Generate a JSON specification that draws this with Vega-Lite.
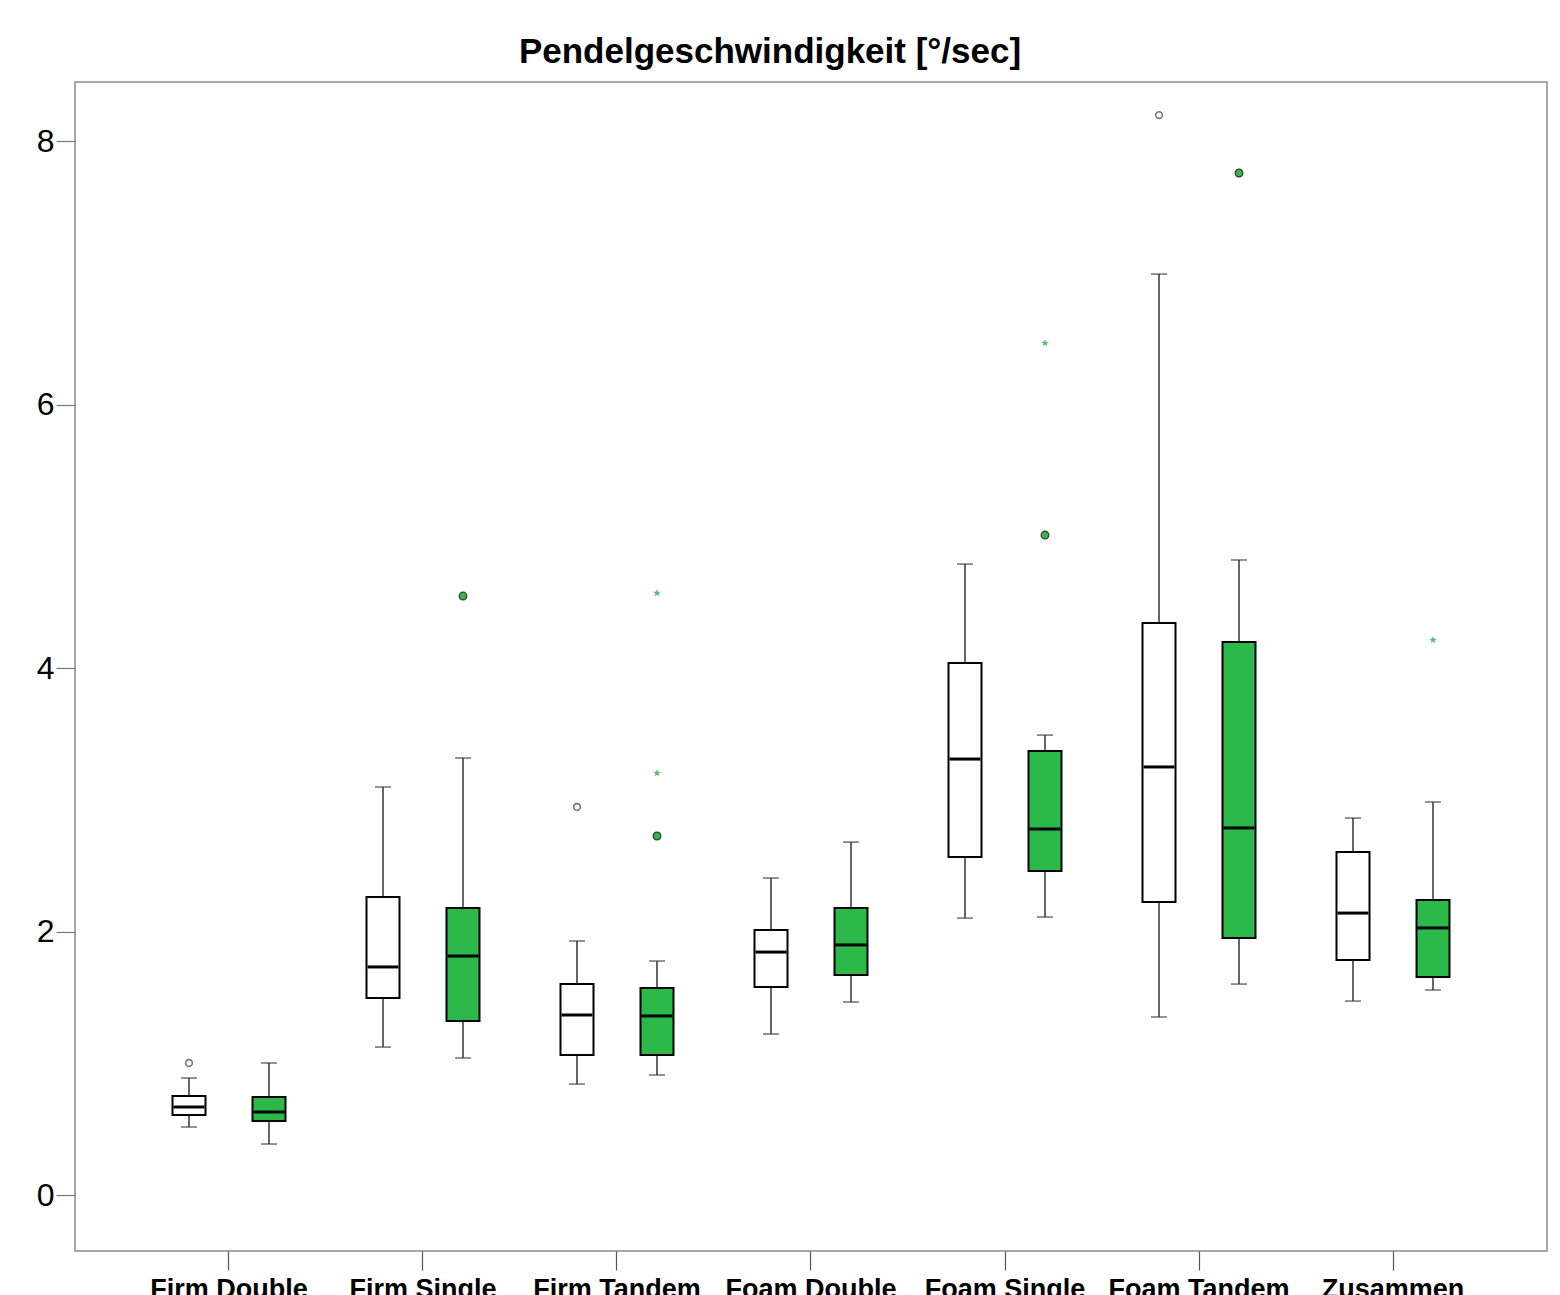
{
  "$schema": "https://vega.github.io/schema/vega-lite/v6.json",
  "autosize": "none",
  "width": 1472,
  "height": 1169,
  "padding": {"left": 75, "top": 82, "right": 13, "bottom": 44},
  "background": "white",
  "config": {
    "view": {"stroke": "#8a8a8a", "strokeWidth": 1.5},
    "font": "Liberation Sans"
  },
  "title": {
    "text": "Pendelgeschwindigkeit [°/sec]",
    "fontSize": 35,
    "fontWeight": "bold",
    "font": "Liberation Sans",
    "color": "black",
    "anchor": "middle",
    "dx": -41,
    "offset": 12
  },
  "datasets": {
    "boxes": [
      {"cat": "Firm Double", "group": "Gruppe 1", "lo": 0.516, "q1": 0.607, "med": 0.668, "q3": 0.751, "hi": 0.888},
      {"cat": "Firm Double", "group": "Gruppe 2", "lo": 0.387, "q1": 0.562, "med": 0.63, "q3": 0.744, "hi": 1.002},
      {"cat": "Firm Single", "group": "Gruppe 1", "lo": 1.123, "q1": 1.495, "med": 1.731, "q3": 2.262, "hi": 3.097},
      {"cat": "Firm Single", "group": "Gruppe 2", "lo": 1.04, "q1": 1.321, "med": 1.814, "q3": 2.178, "hi": 3.317},
      {"cat": "Firm Tandem", "group": "Gruppe 1", "lo": 0.842, "q1": 1.063, "med": 1.366, "q3": 1.601, "hi": 1.928},
      {"cat": "Firm Tandem", "group": "Gruppe 2", "lo": 0.911, "q1": 1.063, "med": 1.359, "q3": 1.571, "hi": 1.776},
      {"cat": "Foam Double", "group": "Gruppe 1", "lo": 1.222, "q1": 1.579, "med": 1.844, "q3": 2.011, "hi": 2.406},
      {"cat": "Foam Double", "group": "Gruppe 2", "lo": 1.465, "q1": 1.67, "med": 1.898, "q3": 2.178, "hi": 2.679},
      {"cat": "Foam Single", "group": "Gruppe 1", "lo": 2.102, "q1": 2.565, "med": 3.309, "q3": 4.038, "hi": 4.789},
      {"cat": "Foam Single", "group": "Gruppe 2", "lo": 2.11, "q1": 2.459, "med": 2.778, "q3": 3.37, "hi": 3.491},
      {"cat": "Foam Tandem", "group": "Gruppe 1", "lo": 1.351, "q1": 2.224, "med": 3.249, "q3": 4.342, "hi": 6.99},
      {"cat": "Foam Tandem", "group": "Gruppe 2", "lo": 1.601, "q1": 1.951, "med": 2.786, "q3": 4.197, "hi": 4.82},
      {"cat": "Zusammen", "group": "Gruppe 1", "lo": 1.472, "q1": 1.784, "med": 2.14, "q3": 2.603, "hi": 2.861},
      {"cat": "Zusammen", "group": "Gruppe 2", "lo": 1.556, "q1": 1.655, "med": 2.027, "q3": 2.239, "hi": 2.983}
    ],
    "outliers": [
      {"cat": "Firm Double", "group": "Gruppe 1", "value": 1.002, "kind": "Ausreißer"},
      {"cat": "Firm Single", "group": "Gruppe 2", "value": 4.546, "kind": "Ausreißer"},
      {"cat": "Firm Tandem", "group": "Gruppe 1", "value": 2.945, "kind": "Ausreißer"},
      {"cat": "Firm Tandem", "group": "Gruppe 2", "value": 4.569, "kind": "Extremwert"},
      {"cat": "Firm Tandem", "group": "Gruppe 2", "value": 3.203, "kind": "Extremwert"},
      {"cat": "Firm Tandem", "group": "Gruppe 2", "value": 2.725, "kind": "Ausreißer"},
      {"cat": "Foam Single", "group": "Gruppe 2", "value": 5.009, "kind": "Ausreißer"},
      {"cat": "Foam Single", "group": "Gruppe 2", "value": 6.467, "kind": "Extremwert"},
      {"cat": "Foam Tandem", "group": "Gruppe 1", "value": 8.197, "kind": "Ausreißer"},
      {"cat": "Foam Tandem", "group": "Gruppe 2", "value": 7.757, "kind": "Ausreißer"},
      {"cat": "Zusammen", "group": "Gruppe 2", "value": 4.213, "kind": "Extremwert"}
    ]
  },
  "encoding": {
    "x": {
      "field": "cat",
      "type": "nominal",
      "sort": ["Firm Double", "Firm Single", "Firm Tandem", "Foam Double", "Foam Single", "Foam Tandem", "Zusammen"],
      "scale": {"paddingInner": 0, "paddingOuter": 0.2938},
      "axis": {
        "title": null,
        "labelAngle": 0,
        "labelFontSize": 27,
        "labelFontWeight": "bold",
        "labelColor": "black",
        "labelFont": "Liberation Sans",
        "labelLimit": 400,
        "labelOverlap": false,
        "tickSize": 19,
        "tickColor": "#555555",
        "tickWidth": 1.2,
        "labelPadding": 6,
        "domain": false
      }
    },
    "xOffset": {
      "field": "group",
      "type": "nominal",
      "scale": {"domain": ["Gruppe 1", "Gruppe 2"], "paddingInner": 0.5875, "paddingOuter": 0.50625}
    }
  },
  "layer": [
    {
      "data": {"name": "boxes"},
      "mark": {"type": "rule", "color": "#333333", "strokeWidth": 1.5},
      "encoding": {
        "y": {
          "field": "lo",
          "type": "quantitative",
          "scale": {"domain": [-0.425, 8.448], "nice": false, "zero": false},
          "axis": {
            "title": null,
            "values": [0, 2, 4, 6, 8],
            "format": "d",
            "grid": false,
            "labelFontSize": 32,
            "labelColor": "black",
            "labelFont": "Liberation Sans",
            "tickSize": 19,
            "tickColor": "#777777",
            "tickWidth": 1.2,
            "labelPadding": 2,
            "domain": false
          }
        },
        "y2": {"field": "hi"}
      }
    },
    {
      "data": {"name": "boxes"},
      "mark": {"type": "tick", "color": "#333333", "thickness": 1.5, "size": 16},
      "encoding": {"y": {"field": "lo", "type": "quantitative"}}
    },
    {
      "data": {"name": "boxes"},
      "mark": {"type": "tick", "color": "#333333", "thickness": 1.5, "size": 16},
      "encoding": {"y": {"field": "hi", "type": "quantitative"}}
    },
    {
      "data": {"name": "boxes"},
      "mark": {"type": "bar", "stroke": "black", "strokeWidth": 2, "fillOpacity": 1},
      "encoding": {
        "y": {"field": "q1", "type": "quantitative"},
        "y2": {"field": "q3"},
        "fill": {
          "field": "group",
          "type": "nominal",
          "scale": {"domain": ["Gruppe 1", "Gruppe 2"], "range": ["#ffffff", "#2db84a"]},
          "legend": null
        }
      }
    },
    {
      "data": {"name": "boxes"},
      "mark": {"type": "tick", "color": "black", "thickness": 3, "size": 31, "opacity": 1},
      "encoding": {"y": {"field": "med", "type": "quantitative"}}
    },
    {
      "data": {"name": "outliers"},
      "transform": [{"filter": "datum.kind === 'Ausreißer' && datum.group === 'Gruppe 1'"}],
      "mark": {"type": "point", "shape": "circle", "filled": false, "stroke": "#777777", "strokeWidth": 1.6, "size": 45, "opacity": 1},
      "encoding": {"y": {"field": "value", "type": "quantitative"}}
    },
    {
      "data": {"name": "outliers"},
      "transform": [{"filter": "datum.kind === 'Ausreißer' && datum.group === 'Gruppe 2'"}],
      "mark": {"type": "point", "shape": "circle", "filled": true, "fill": "#2db84a", "stroke": "#3a3a3a", "strokeWidth": 1.2, "size": 60, "opacity": 1, "fillOpacity": 1},
      "encoding": {"y": {"field": "value", "type": "quantitative"}}
    },
    {
      "data": {"name": "outliers"},
      "transform": [{"filter": "datum.kind === 'Extremwert'"}],
      "mark": {"type": "point", "shape": "M0,-1L0.235,-0.324L0.951,-0.309L0.38,0.124L0.588,0.809L0,0.4L-0.588,0.809L-0.38,0.124L-0.951,-0.309L-0.235,-0.324Z", "filled": true, "fill": "#4cc36a", "strokeWidth": 0, "size": 65, "opacity": 1},
      "encoding": {"y": {"field": "value", "type": "quantitative"}}
    }
  ]
}
